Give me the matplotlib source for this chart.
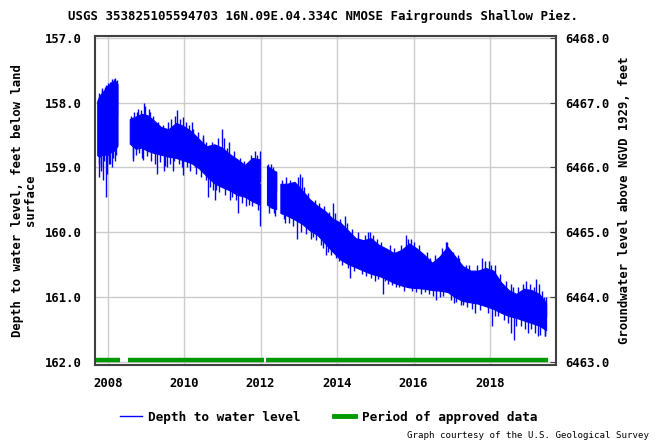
import matplotlib
matplotlib.use("Agg")
import matplotlib.pyplot as plt
from matplotlib.lines import Line2D
import numpy as np

# core band of the record (decimal year, shallowest / deepest depth in feet)
years = [2007.74, 2007.80, 2007.90, 2008.00, 2008.10, 2008.20, 2008.27, 2008.40,
         2008.59, 2008.75, 2008.90, 2009.05, 2009.20, 2009.40, 2009.60, 2009.80,
         2010.00, 2010.20, 2010.40, 2010.60, 2010.80, 2011.00, 2011.20, 2011.40,
         2011.60, 2011.80, 2011.98, 2012.10, 2012.18, 2012.30, 2012.42, 2012.47,
         2012.53, 2012.70, 2012.90, 2013.10, 2013.30, 2013.50, 2013.70, 2013.90,
         2014.10, 2014.30, 2014.50, 2014.70, 2014.90, 2015.10, 2015.30, 2015.50,
         2015.70, 2015.90, 2016.10, 2016.30, 2016.50, 2016.70, 2016.90, 2017.10,
         2017.30, 2017.50, 2017.70, 2017.90, 2018.10, 2018.30, 2018.50, 2018.70,
         2018.90, 2019.10, 2019.30, 2019.48]
depth_top = [157.98, 157.90, 157.83, 157.75, 157.70, 157.66, 157.72, np.nan,
             158.26, 158.22, 158.18, 158.20, 158.27, 158.38, 158.42, 158.32,
             158.37, 158.45, 158.57, 158.68, 158.65, 158.70, 158.80, 158.88,
             158.97, 158.86, 158.88, np.nan, 158.98, 159.03, 159.08, np.nan,
             159.26, 159.26, 159.23, 159.36, 159.50, 159.60, 159.68, 159.80,
             159.86, 159.98, 160.10, 160.13, 160.10, 160.20, 160.26, 160.33,
             160.28, 160.18, 160.26, 160.36, 160.48, 160.38, 160.23, 160.38,
             160.53, 160.60, 160.60, 160.56, 160.60, 160.78, 160.90, 160.96,
             160.88, 160.90, 160.96, 161.10]
depth_bot = [158.82, 158.84, 158.80, 158.82, 158.77, 158.74, 158.67, np.nan,
             158.64, 158.72, 158.70, 158.75, 158.78, 158.81, 158.84, 158.86,
             158.90, 158.94, 159.02, 159.14, 159.25, 159.31, 159.36, 159.43,
             159.46, 159.53, 159.58, np.nan, 159.58, 159.63, 159.65, np.nan,
             159.71, 159.75, 159.81, 159.88, 159.98, 160.05, 160.18, 160.31,
             160.43, 160.50, 160.55, 160.60, 160.65, 160.68, 160.73, 160.79,
             160.83, 160.86, 160.87, 160.88, 160.90, 160.91, 160.93, 161.01,
             161.07, 161.09, 161.11, 161.15, 161.19, 161.25, 161.30, 161.33,
             161.37, 161.41, 161.45, 161.52]

# individual readings sticking out of the band
spike_years = [2007.78, 2007.85, 2007.95, 2008.05, 2008.12, 2008.20,
               2007.77, 2007.82, 2007.88, 2007.95, 2008.03, 2008.10, 2008.20,
               2008.76, 2008.94, 2009.07, 2008.65, 2008.89, 2009.28, 2009.46,
               2009.55, 2009.81, 2009.98, 2009.98, 2010.20, 2010.28, 2010.63,
               2010.80, 2010.98, 2011.17, 2010.84, 2011.20, 2011.63, 2011.85,
               2011.98, 2011.99, 2012.26, 2012.37, 2012.63, 2012.94, 2013.02,
               2013.08, 2013.33, 2013.59, 2013.89, 2013.98, 2014.20, 2014.33,
               2014.81, 2014.94, 2014.98, 2015.33, 2015.55, 2015.81, 2015.94,
               2015.95, 2016.29, 2016.85, 2016.94, 2017.07, 2017.16, 2017.29,
               2017.86, 2018.03, 2018.05, 2018.55, 2018.64, 2019.00, 2019.25,
               2019.45, 2018.95, 2019.20, 2019.35, 2018.60, 2017.60, 2016.60,
               2015.20, 2014.60, 2013.70, 2012.80, 2011.40, 2010.50, 2009.70,
               2007.76, 2007.79, 2007.83, 2007.86, 2007.91, 2007.93, 2007.98,
               2008.01, 2008.06, 2008.08, 2008.14, 2008.16, 2008.22, 2008.25,
               2008.62, 2008.66, 2008.70, 2008.74, 2008.78, 2008.82, 2008.86,
               2008.92, 2008.98, 2009.02, 2009.10, 2009.14, 2009.18, 2009.24,
               2009.32, 2009.36, 2009.44, 2009.50, 2009.58, 2009.62, 2009.66,
               2009.74, 2009.77, 2009.86, 2009.90, 2009.94,
               2010.04, 2010.08, 2010.12, 2010.16, 2010.24, 2010.32, 2010.36,
               2010.44, 2010.48, 2010.56, 2010.58, 2010.68, 2010.72, 2010.76,
               2010.88, 2010.92, 2011.04,
               2011.08, 2011.12, 2011.26, 2011.30, 2011.36, 2011.46, 2011.52,
               2011.56, 2011.70, 2011.74, 2011.78, 2011.90, 2011.94,
               2012.20, 2012.22, 2012.32, 2012.34, 2012.40,
               2012.56, 2012.60, 2012.66, 2012.74, 2012.78, 2012.86, 2012.98,
               2013.05, 2013.14, 2013.18, 2013.24, 2013.38, 2013.42, 2013.46,
               2013.54, 2013.64, 2013.66, 2013.76, 2013.80, 2013.84, 2013.94,
               2014.04, 2014.08, 2014.14, 2014.25, 2014.28, 2014.40, 2014.44,
               2014.54, 2014.66, 2014.72, 2014.76, 2014.86, 2014.90,
               2015.04, 2015.08, 2015.16, 2015.26, 2015.38, 2015.44, 2015.48,
               2015.62, 2015.66, 2015.76, 2015.86,
               2016.02, 2016.06, 2016.14, 2016.20, 2016.34, 2016.40, 2016.44,
               2016.52, 2016.56, 2016.68, 2016.74, 2016.78, 2016.88, 2016.98,
               2017.04, 2017.12, 2017.20, 2017.24, 2017.36, 2017.40, 2017.46,
               2017.54, 2017.66, 2017.74, 2017.80, 2017.94, 2017.98,
               2018.12, 2018.14, 2018.20, 2018.26, 2018.36, 2018.42, 2018.46,
               2018.56, 2018.68, 2018.74, 2018.82, 2018.86, 2018.92,
               2019.04, 2019.08, 2019.14, 2019.18, 2019.28, 2019.32, 2019.40,
               2019.43, 2019.47]
spike_depths = [157.85, 157.78, 157.72, 157.68, 157.63, 157.62,
                159.15, 159.00, 159.20, 159.45, 158.95, 159.00, 158.90,
                158.15, 158.00, 158.10, 158.90, 158.85, 159.10, 159.05,
                159.00, 158.12, 158.22, 159.12, 158.30, 159.00, 159.45,
                159.50, 158.40, 158.60, 159.35, 159.50, 159.60, 158.75,
                158.75, 159.90, 158.95, 159.75, 159.85, 160.10, 159.10,
                159.15, 160.10, 160.20, 159.55, 160.40, 159.75, 160.70,
                160.00, 160.05, 160.75, 160.80, 160.85, 160.05, 160.10,
                160.90, 160.92, 160.15, 160.30, 161.10, 160.35, 161.12,
                160.45, 160.50, 161.45, 161.55, 161.66, 161.55, 161.60,
                161.60, 160.75, 160.72, 160.90, 160.85, 161.25, 161.05,
                160.95, 160.30, 160.35, 159.45, 159.70, 158.50, 159.05,
                158.95, 157.92, 159.05, 157.80, 158.90, 157.75, 159.10,
                157.70, 158.95, 157.68, 158.85, 157.63, 158.80, 157.65,
                158.20, 158.85, 158.15, 158.80, 158.10, 158.78, 158.12,
                158.88, 158.05, 158.82, 158.15, 158.90, 158.20, 158.95,
                158.30, 158.92, 158.35, 158.98, 158.30, 158.95, 158.25,
                158.90, 158.20, 158.95, 158.25, 159.00,
                158.30, 159.00, 158.35, 159.05, 158.40, 159.10, 158.45,
                159.15, 158.55, 159.20, 158.60, 159.30, 158.60, 159.35,
                158.55, 159.38, 158.55,
                159.42, 158.70, 159.45, 158.75, 159.50, 158.85, 159.55,
                158.90, 159.58, 158.80, 159.60, 158.80, 159.65,
                158.95, 159.70, 159.00, 159.70, 159.05,
                159.20, 159.80, 159.15, 159.85, 159.20, 159.90, 159.15,
                160.00, 159.30, 160.02, 159.40, 160.08, 159.50, 160.12,
                159.55, 160.25, 159.60, 160.30, 159.68, 160.35, 159.70,
                160.45, 159.80, 160.50, 159.85, 160.55, 159.95, 160.60,
                160.00, 160.65, 160.05, 160.68, 160.00, 160.70,
                160.10, 160.72, 160.15, 160.75, 160.20, 160.82, 160.25,
                160.85, 160.20, 160.90, 160.10,
                160.15, 160.92, 160.20, 160.95, 160.30, 160.95, 160.40,
                160.98, 160.35, 161.00, 160.25, 160.98, 160.15, 161.05,
                160.30, 161.08, 160.40, 161.12, 160.50, 161.15, 160.50,
                161.18, 160.50, 161.20, 160.40, 161.25, 160.45,
                161.30, 160.50, 161.30, 160.65, 161.35, 160.75, 161.40,
                160.80, 161.45, 160.85, 161.45, 160.80, 161.50,
                160.80, 161.50, 160.85, 161.55, 160.80, 161.58, 161.00,
                161.60, 161.00]

# approved-data periods
approved_start = [2007.70, 2008.54, 2012.13]
approved_end = [2008.32, 2012.10, 2019.52]

xticks = [2008, 2010, 2012, 2014, 2016, 2018]
left_ticks = [157, 158, 159, 160, 161, 162]
right_ticks = [6468, 6467, 6466, 6465, 6464, 6463]
datum_offset = 6625.0  # elevation = offset - depth

blue = '#0000ff'
green = '#009900'
mono = 'DejaVu Sans Mono'

fig = plt.figure(figsize=(6.57, 4.41), dpi=100)
ax = fig.add_axes([95 / 657, 1 - 365 / 441, (556 - 95) / 657, (365 - 36) / 441])

ax.set_xlim(2007.668, 2019.726)
ax.set_ylim(162.05, 156.97)

ax.grid(True, color='#cccccc', lw=1.0, zorder=0)
ax.set_axisbelow(True)

yr = np.array(years)
top = np.array(depth_top)
bot = np.array(depth_bot)
ax.fill_between(yr, top, bot, color=blue, lw=0.8, zorder=2)

# spikes start from the middle of the band so they join it
mid = (top + bot) / 2
ok = ~np.isnan(mid)
sx = np.array(spike_years)
base = np.interp(sx, yr[ok], mid[ok])
ax.vlines(sx, base, spike_depths, color=blue, lw=1.0, zorder=2)

ax.hlines([161.98] * len(approved_start), approved_start, approved_end,
          color=green, lw=3.2, capstyle='butt', zorder=3)

ax.set_xticks(xticks)
ax.set_xticklabels([str(x) for x in xticks])
ax.set_yticks(left_ticks)
ax.set_yticklabels(['%.1f' % v for v in left_ticks])
ax.tick_params(axis='x', length=0, pad=8.5)
ax.tick_params(axis='y', length=0, pad=9.5)
for lab in ax.get_xticklabels() + ax.get_yticklabels():
    lab.set_fontfamily(mono)
    lab.set_fontweight('bold')
    lab.set_fontsize(8.8)

for s in ax.spines.values():
    s.set_color('#404040')
    s.set_linewidth(1.5)

ax.set_ylabel('Depth to water level, feet below land\nsurface', family=mono,
              weight='bold', fontsize=8.8, linespacing=1.0, labelpad=6)

ax2 = ax.twinx()
ax2.set_ylim(datum_offset - 162.05, datum_offset - 156.97)
ax2.set_yticks(right_ticks)
ax2.set_yticklabels(['%.1f' % v for v in right_ticks])
ax2.tick_params(axis='y', direction='in', length=4, pad=7, color='#404040')
for lab in ax2.get_yticklabels():
    lab.set_fontfamily(mono)
    lab.set_fontweight('bold')
    lab.set_fontsize(8.8)
for s in ax2.spines.values():
    s.set_visible(False)
ax2.set_ylabel('Groundwater level above NGVD 1929, feet', family=mono,
               weight='bold', fontsize=8.8, labelpad=6)

fig.text(0.492, 1 - 16 / 441,
         'USGS 353825105594703 16N.09E.04.334C NMOSE Fairgrounds Shallow Piez.',
         ha='center', va='center', family=mono, weight='bold', fontsize=8.9)

handles = [Line2D([], [], color=blue, lw=1.0),
           Line2D([], [], color=green, lw=3.5)]
fig.legend(handles, ['Depth to water level', 'Period of approved data'],
           loc='center', bbox_to_anchor=(0.5, 1 - 417 / 441), ncol=2,
           frameon=False, handlelength=1.7, handletextpad=0.5,
           columnspacing=2.6, prop={'family': mono, 'weight': 'bold', 'size': 9.2})

fig.text(649 / 657, 1 - 436 / 441, 'Graph courtesy of the U.S. Geological Survey',
         ha='right', va='center', family=mono, fontsize=6.6)

fig.savefig('out.png', dpi=100)
